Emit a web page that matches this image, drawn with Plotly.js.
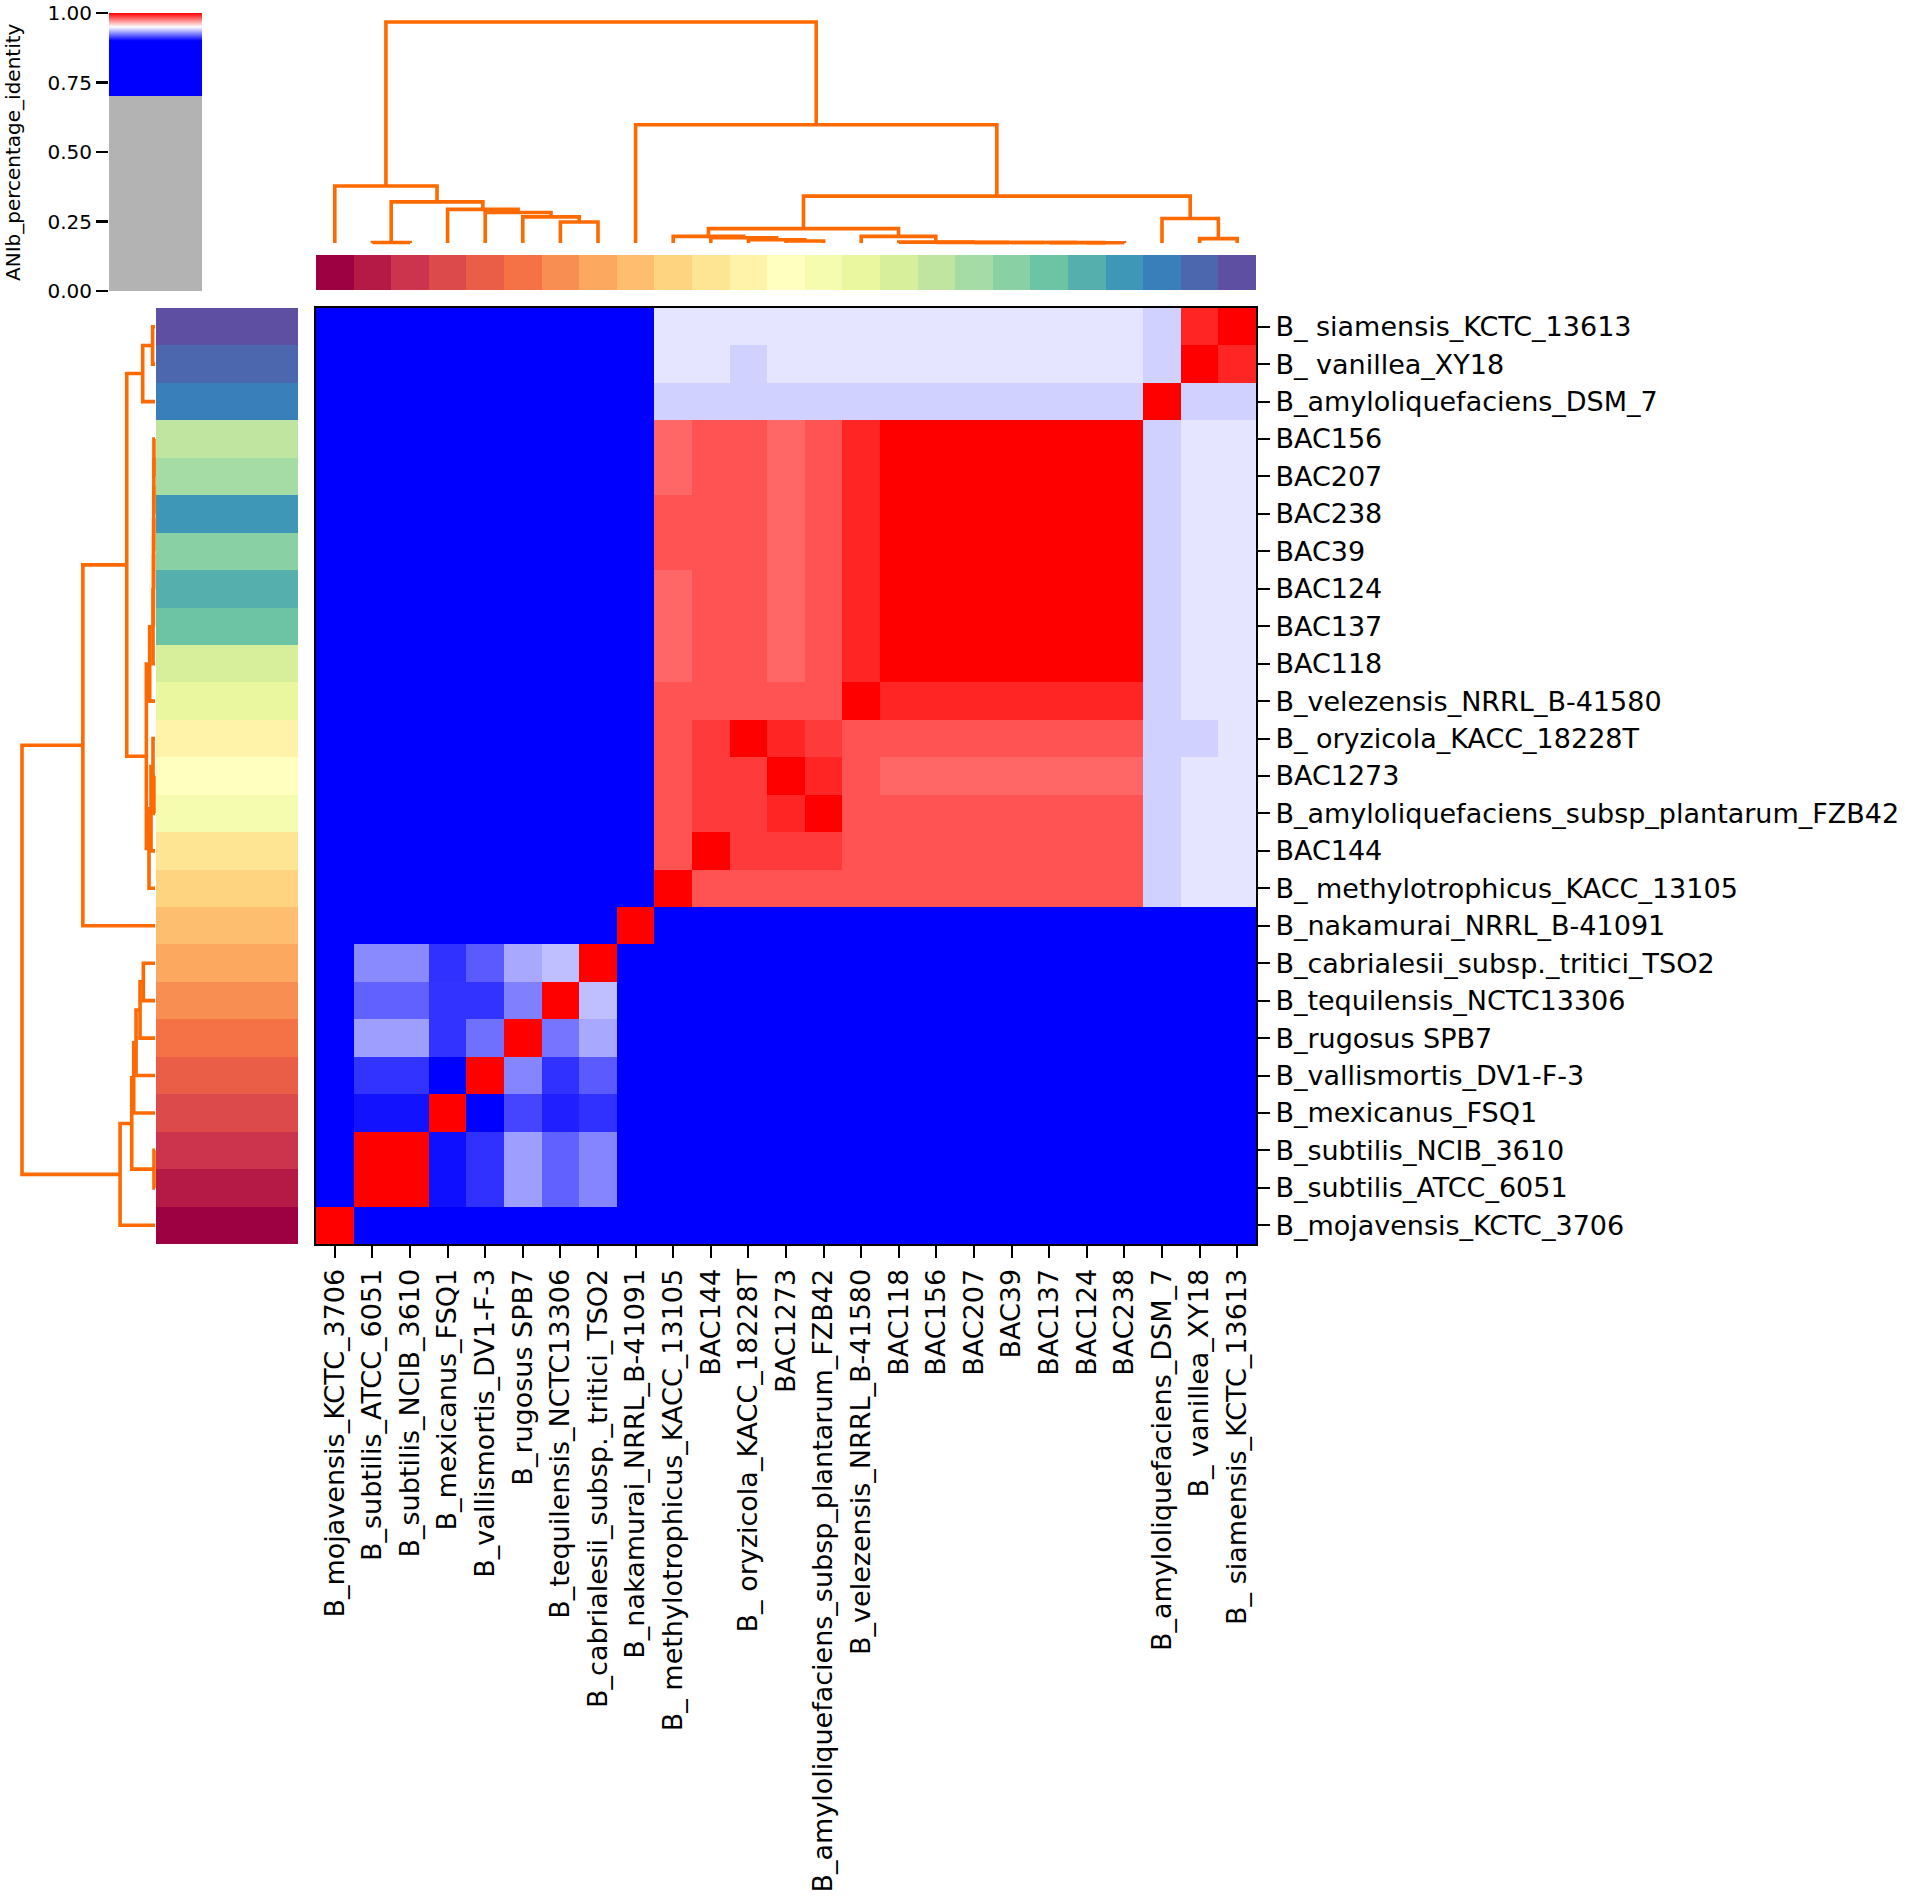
<!DOCTYPE html>
<html>
<head>
<meta charset="utf-8">
<script src="https://cdn.plot.ly/plotly-3.0.1.min.js"></script>
<style>
html,body{margin:0;padding:0;background:#ffffff;}
#chart{width:1908px;height:1903px;}
</style>
</head>
<body>
<div id="chart"></div>
<script>
// ---------------- DATA ----------------
// Column order (left -> right)
const colLabels = [
  'B_mojavensis_KCTC_3706','B_subtilis_ATCC_6051','B_subtilis_NCIB_3610','B_mexicanus_FSQ1',
  'B_vallismortis_DV1-F-3','B_rugosus SPB7','B_tequilensis_NCTC13306','B_cabrialesii_subsp._tritici_TSO2',
  'B_nakamurai_NRRL_B-41091','B_ methylotrophicus_KACC_13105','BAC144','B_ oryzicola_KACC_18228T',
  'BAC1273','B_amyloliquefaciens_subsp_plantarum_FZB42','B_velezensis_NRRL_B-41580','BAC118',
  'BAC156','BAC207','BAC39','BAC137','BAC124','BAC238',
  'B_amyloliquefaciens_DSM_7','B_ vanillea_XY18','B_ siamensis_KCTC_13613'
];
// Row order (top -> bottom)
const rowLabels = [
  'B_ siamensis_KCTC_13613','B_ vanillea_XY18','B_amyloliquefaciens_DSM_7','BAC156','BAC207',
  'BAC238','BAC39','BAC124','BAC137','BAC118','B_velezensis_NRRL_B-41580','B_ oryzicola_KACC_18228T',
  'BAC1273','B_amyloliquefaciens_subsp_plantarum_FZB42','BAC144','B_ methylotrophicus_KACC_13105',
  'B_nakamurai_NRRL_B-41091','B_cabrialesii_subsp._tritici_TSO2','B_tequilensis_NCTC13306',
  'B_rugosus SPB7','B_vallismortis_DV1-F-3','B_mexicanus_FSQ1','B_subtilis_NCIB_3610',
  'B_subtilis_ATCC_6051','B_mojavensis_KCTC_3706'
];
// ANIb percentage identity, one row per rowLabels entry, columns in colLabels order
const aniMatrix = [
 [0.77,0.77,0.77,0.77,0.77,0.77,0.77,0.77,0.80,0.945,0.945,0.945,0.945,0.945,0.945,0.945,0.945,0.945,0.945,0.945,0.945,0.945,0.941,0.9927,1.0],
 [0.77,0.77,0.77,0.77,0.77,0.77,0.77,0.77,0.80,0.945,0.945,0.941,0.945,0.945,0.945,0.945,0.945,0.945,0.945,0.945,0.945,0.945,0.941,1.0,0.9927],
 [0.77,0.77,0.77,0.77,0.77,0.77,0.77,0.77,0.80,0.941,0.941,0.941,0.941,0.941,0.941,0.941,0.941,0.941,0.941,0.941,0.941,0.941,1.0,0.941,0.941],
 [0.77,0.77,0.77,0.77,0.77,0.77,0.77,0.77,0.80,0.980,0.984,0.984,0.980,0.984,0.9927,1.0,1.0,1.0,1.0,1.0,1.0,1.0,0.941,0.945,0.945],
 [0.77,0.77,0.77,0.77,0.77,0.77,0.77,0.77,0.80,0.980,0.984,0.984,0.980,0.984,0.9927,1.0,1.0,1.0,1.0,1.0,1.0,1.0,0.941,0.945,0.945],
 [0.77,0.77,0.77,0.77,0.77,0.77,0.77,0.77,0.80,0.984,0.984,0.984,0.980,0.984,0.9927,1.0,1.0,1.0,1.0,1.0,1.0,1.0,0.941,0.945,0.945],
 [0.77,0.77,0.77,0.77,0.77,0.77,0.77,0.77,0.80,0.984,0.984,0.984,0.980,0.984,0.9927,1.0,1.0,1.0,1.0,1.0,1.0,1.0,0.941,0.945,0.945],
 [0.77,0.77,0.77,0.77,0.77,0.77,0.77,0.77,0.80,0.980,0.984,0.984,0.980,0.984,0.9927,1.0,1.0,1.0,1.0,1.0,1.0,1.0,0.941,0.945,0.945],
 [0.77,0.77,0.77,0.77,0.77,0.77,0.77,0.77,0.80,0.980,0.984,0.984,0.980,0.984,0.9927,1.0,1.0,1.0,1.0,1.0,1.0,1.0,0.941,0.945,0.945],
 [0.77,0.77,0.77,0.77,0.77,0.77,0.77,0.77,0.80,0.980,0.984,0.984,0.980,0.984,0.9927,1.0,1.0,1.0,1.0,1.0,1.0,1.0,0.941,0.945,0.945],
 [0.77,0.77,0.77,0.77,0.77,0.77,0.77,0.77,0.80,0.984,0.984,0.984,0.984,0.984,1.0,0.9927,0.9927,0.9927,0.9927,0.9927,0.9927,0.9927,0.941,0.945,0.945],
 [0.77,0.77,0.77,0.77,0.77,0.77,0.77,0.77,0.80,0.984,0.9886,1.0,0.9927,0.9886,0.984,0.984,0.984,0.984,0.984,0.984,0.984,0.984,0.941,0.941,0.945],
 [0.77,0.77,0.77,0.77,0.77,0.77,0.77,0.77,0.80,0.984,0.9886,0.9886,1.0,0.9927,0.984,0.980,0.980,0.980,0.980,0.980,0.980,0.980,0.941,0.945,0.945],
 [0.77,0.77,0.77,0.77,0.77,0.77,0.77,0.77,0.80,0.984,0.9886,0.9886,0.9927,1.0,0.984,0.984,0.984,0.984,0.984,0.984,0.984,0.984,0.941,0.945,0.945],
 [0.77,0.77,0.77,0.77,0.77,0.77,0.77,0.77,0.80,0.984,1.0,0.9886,0.9886,0.9886,0.984,0.984,0.984,0.984,0.984,0.984,0.984,0.984,0.941,0.945,0.945],
 [0.77,0.77,0.77,0.77,0.77,0.77,0.77,0.77,0.80,1.0,0.984,0.984,0.984,0.984,0.984,0.984,0.984,0.984,0.984,0.984,0.984,0.984,0.941,0.945,0.945],
 [0.80,0.80,0.80,0.80,0.80,0.80,0.80,0.80,1.0,0.80,0.80,0.80,0.80,0.80,0.80,0.80,0.80,0.80,0.80,0.80,0.80,0.80,0.80,0.80,0.80],
 [0.88,0.927,0.927,0.9095,0.9176,0.933,0.9375,1.0,0.80,0.77,0.77,0.77,0.77,0.77,0.77,0.77,0.77,0.77,0.77,0.77,0.77,0.77,0.77,0.77,0.77],
 [0.88,0.919,0.919,0.910,0.910,0.925,1.0,0.9375,0.80,0.77,0.77,0.77,0.77,0.77,0.77,0.77,0.77,0.77,0.77,0.77,0.77,0.77,0.77,0.77,0.77],
 [0.88,0.931,0.931,0.910,0.922,1.0,0.923,0.933,0.80,0.77,0.77,0.77,0.77,0.77,0.77,0.77,0.77,0.77,0.77,0.77,0.77,0.77,0.77,0.77,0.77],
 [0.88,0.910,0.910,0.895,1.0,0.926,0.9095,0.9176,0.80,0.77,0.77,0.77,0.77,0.77,0.77,0.77,0.77,0.77,0.77,0.77,0.77,0.77,0.77,0.77,0.77],
 [0.88,0.9035,0.9035,1.0,0.895,0.9135,0.906,0.9095,0.80,0.77,0.77,0.77,0.77,0.77,0.77,0.77,0.77,0.77,0.77,0.77,0.77,0.77,0.77,0.77,0.77],
 [0.88,1.0,1.0,0.903,0.9095,0.931,0.919,0.926,0.80,0.77,0.77,0.77,0.77,0.77,0.77,0.77,0.77,0.77,0.77,0.77,0.77,0.77,0.77,0.77,0.77],
 [0.88,1.0,1.0,0.903,0.9095,0.931,0.919,0.926,0.80,0.77,0.77,0.77,0.77,0.77,0.77,0.77,0.77,0.77,0.77,0.77,0.77,0.77,0.77,0.77,0.77],
 [1.0,0.88,0.88,0.88,0.88,0.88,0.88,0.88,0.80,0.77,0.77,0.77,0.77,0.77,0.77,0.77,0.77,0.77,0.77,0.77,0.77,0.77,0.77,0.77,0.77]
];
// Column dendrogram linkage: [child A, child B, height]; a child is a label or the index of an earlier merge
const colMerges = [
 ['B_subtilis_ATCC_6051','B_subtilis_NCIB_3610',0.002],
 ['B_tequilensis_NCTC13306','B_cabrialesii_subsp._tritici_TSO2',0.095],
 ['B_rugosus SPB7',1,0.118],
 ['B_vallismortis_DV1-F-3',2,0.138],
 ['B_mexicanus_FSQ1',3,0.152],
 [0,4,0.186],
 ['B_mojavensis_KCTC_3706',5,0.258],
 ['BAC124','BAC238',0.001],
 ['BAC137',7,0.0015],
 ['BAC39',8,0.002],
 ['BAC207',9,0.0025],
 ['BAC156',10,0.003],
 ['BAC118',11,0.004],
 ['B_velezensis_NRRL_B-41580',12,0.030],
 ['BAC1273','B_amyloliquefaciens_subsp_plantarum_FZB42',0.009],
 ['B_ oryzicola_KACC_18228T',14,0.015],
 ['BAC144',15,0.024],
 ['B_ methylotrophicus_KACC_13105',16,0.030],
 [17,13,0.065],
 ['B_ vanillea_XY18','B_ siamensis_KCTC_13613',0.020],
 ['B_amyloliquefaciens_DSM_7',19,0.111],
 [18,20,0.212],
 ['B_nakamurai_NRRL_B-41091',21,0.535],
 [6,22,1.0]
];
// Row dendrogram linkage
const rowMerges = [
 ['B_ siamensis_KCTC_13613','B_ vanillea_XY18',0.018],
 [0,'B_amyloliquefaciens_DSM_7',0.0925],
 ['BAC156','BAC207',0.008],
 [2,'BAC238',0.009],
 [3,'BAC39',0.010],
 [4,'BAC124',0.011],
 [5,'BAC137',0.012],
 [6,'BAC118',0.015],
 [7,'B_velezensis_NRRL_B-41580',0.040],
 ['BAC1273','B_amyloliquefaciens_subsp_plantarum_FZB42',0.008],
 ['B_ oryzicola_KACC_18228T',9,0.015],
 [10,'BAC144',0.030],
 [11,'B_ methylotrophicus_KACC_13105',0.045],
 [8,12,0.065],
 [1,13,0.2125],
 [14,'B_nakamurai_NRRL_B-41091',0.5425],
 ['B_cabrialesii_subsp._tritici_TSO2','B_tequilensis_NCTC13306',0.0875],
 [16,'B_rugosus SPB7',0.1125],
 [17,'B_vallismortis_DV1-F-3',0.1425],
 [18,'B_mexicanus_FSQ1',0.16],
 ['B_subtilis_NCIB_3610','B_subtilis_ATCC_6051',0.0075],
 [19,20,0.175],
 [21,'B_mojavensis_KCTC_3706',0.2625],
 [15,22,1.0]
];
const cbTickVals = [0, 0.25, 0.5, 0.75, 1.0];
const cbTitle = 'ANIb_percentage_identity';

// ---------------- STYLE ----------------
const W = 1908, H = 1903;
const fx = p => p / W;
const fy = p => 1 - p / H;
const FONT = 'DejaVu Sans, Liberation Sans, sans-serif';
const DENDRO_COLOR = '#ff6a00';

// ANIb colormap (grey below 0.7, blue to 0.9, white at 0.95, red at 1.0)
const aniScale = [[0,'#b3b3b3'],[0.7,'#b3b3b3'],[0.7,'#0000ff'],[0.9,'#0000ff'],[0.95,'#ffffff'],[1,'#ff0000']];

// Spectral palette for label colours
const spectralAnchors = ['#9e0142','#d53e4f','#f46d43','#fdae61','#fee08b','#ffffbf','#e6f598','#abdda4','#66c2a5','#3288bd','#5e4fa2'];
function hexToRgb(h){return [parseInt(h.slice(1,3),16),parseInt(h.slice(3,5),16),parseInt(h.slice(5,7),16)];}
function spectral(t){
  const pos = t*10; let i = Math.floor(pos); if(i>9) i=9; if(i<0) i=0;
  const f = pos - i; const a = hexToRgb(spectralAnchors[i]), b = hexToRgb(spectralAnchors[i+1]);
  const c = a.map((v,k)=>Math.round(v + (b[k]-v)*f));
  return 'rgb('+c.join(',')+')';
}
const nLab = colLabels.length;
const labelColours = colLabels.map((l,j)=>spectral(j/(nLab-1)));
const specScale = [];
labelColours.forEach((c,j)=>{ specScale.push([j/nLab, c]); specScale.push([(j+1)/nLab, c]); });

const colBarZ = [colLabels.map(l=>colLabels.indexOf(l))];
const rowBarZ = rowLabels.map(l=>[colLabels.indexOf(l)]);

// Dendrogram geometry (scipy-like: node position = mean of its children)
function dendro(merges, order){
  const pos = {}; order.forEach((l,i)=>{pos[l]=i+0.5;});
  const nodes = [];
  const get = c => (typeof c === 'number') ? nodes[c] : {p: pos[c], h: 0};
  const P = [], Hs = [];
  merges.forEach(m=>{
    const a = get(m[0]), b = get(m[1]), h = m[2];
    P.push(a.p, a.p, b.p, b.p, null);
    Hs.push(a.h, h, h, b.h, null);
    nodes.push({p:(a.p+b.p)/2, h:h});
  });
  return {P, Hs};
}
const topD = dendro(colMerges, colLabels);
const leftD = dendro(rowMerges, rowLabels);

// ---------------- TRACES ----------------
const traces = [
  {
    type:'heatmap', x: colLabels, y: rowLabels, z: aniMatrix,
    colorscale: aniScale, zmin:0, zmax:1, xaxis:'x', yaxis:'y', hoverinfo:'skip',
    colorbar:{
      x: fx(109), xanchor:'left', xref:'paper',
      y: fy(152), yanchor:'middle', yref:'paper',
      len: 278, lenmode:'pixels', thickness: 93, thicknessmode:'pixels',
      outlinewidth: 0, showticklabels:false, ticks:'', xpad:0, ypad:0
    }
  },
  {
    type:'heatmap', x: colLabels, y:['col_colours'], z: colBarZ,
    colorscale: specScale, zmin:-0.5, zmax:nLab-0.5, showscale:false,
    xaxis:'x2', yaxis:'y2', hoverinfo:'skip'
  },
  {
    type:'heatmap', x:['row_colours'], y: rowLabels, z: rowBarZ,
    colorscale: specScale, zmin:-0.5, zmax:nLab-0.5, showscale:false,
    xaxis:'x3', yaxis:'y3', hoverinfo:'skip'
  },
  {
    type:'scatter', mode:'lines', x: topD.P, y: topD.Hs, xaxis:'x4', yaxis:'y4',
    line:{color:DENDRO_COLOR, width:3.6}, hoverinfo:'skip', showlegend:false
  },
  {
    type:'scatter', mode:'lines', x: leftD.Hs, y: leftD.P, xaxis:'x5', yaxis:'y5',
    line:{color:DENDRO_COLOR, width:3.6}, hoverinfo:'skip', showlegend:false
  },
  // invisible helper so the colour-bar tick axis is drawn
  {
    type:'scatter', mode:'markers', x: cbTickVals.map(()=>0.5), y: cbTickVals,
    xaxis:'x6', yaxis:'y6', marker:{opacity:0, size:1}, hoverinfo:'skip', showlegend:false
  }
];

// ---------------- LAYOUT ----------------
const hmX = [fx(316), fx(1256)];
const hmY = [fy(1244), fy(308)];
const hidden = {visible:false, showgrid:false, zeroline:false, fixedrange:true};
const tickAxis = {
  showgrid:false, zeroline:false, ticks:'outside', ticklen:12, tickwidth:2, tickcolor:'#000',
  showline:true, linecolor:'#000', linewidth:2, mirror:true,
  tickfont:{family:FONT, size:27, color:'#000'}, automargin:false, fixedrange:true
};
const layout = {
  width: W, height: H,
  margin:{l:0, r:0, t:0, b:0, pad:0},
  paper_bgcolor:'#ffffff', plot_bgcolor:'rgba(0,0,0,0)',
  font:{family:FONT, color:'#000'},
  showlegend:false,
  xaxis: Object.assign({}, tickAxis, {
    domain: hmX, anchor:'y', type:'category', categoryorder:'array', categoryarray: colLabels,
    range:[-0.5, nLab-0.5], tickangle:-90, side:'bottom'
  }),
  yaxis: Object.assign({}, tickAxis, {
    domain: hmY, anchor:'x', type:'category', categoryorder:'array', categoryarray: rowLabels,
    range:[nLab-0.5, -0.5], side:'right'
  }),
  xaxis2: Object.assign({}, hidden, {domain: hmX, anchor:'y2', type:'category', categoryorder:'array', categoryarray: colLabels, range:[-0.5, nLab-0.5]}),
  yaxis2: Object.assign({}, hidden, {domain:[fy(290), fy(255)], anchor:'x2'}),
  xaxis3: Object.assign({}, hidden, {domain:[fx(156), fx(298)], anchor:'y3'}),
  yaxis3: Object.assign({}, hidden, {domain: hmY, anchor:'x3', type:'category', categoryorder:'array', categoryarray: rowLabels, range:[nLab-0.5, -0.5]}),
  xaxis4: Object.assign({}, hidden, {domain: hmX, anchor:'y4', range:[0, nLab]}),
  yaxis4: Object.assign({}, hidden, {domain:[fy(243+0.03*221), fy(22-0.03*221)], anchor:'x4', range:[-0.03, 1.03]}),
  xaxis5: Object.assign({}, hidden, {domain:[fx(22-0.03*133), fx(155+0.03*133)], anchor:'y5', range:[1.03, -0.03]}),
  yaxis5: Object.assign({}, hidden, {domain: hmY, anchor:'x5', range:[nLab, 0]}),
  xaxis6: {domain:[fx(109), fx(202)], anchor:'y6', range:[0,1], showticklabels:false, ticks:'', showline:false, showgrid:false, zeroline:false, fixedrange:true},
  yaxis6: {
    domain:[fy(291), fy(13)], anchor:'x6', range:[0,1], side:'left',
    tickvals: cbTickVals, tickformat:'.2f', ticks:'outside', ticklen:12, tickwidth:2.5, tickcolor:'#000',
    showline:false, showgrid:false, zeroline:false, fixedrange:true,
    tickfont:{family:FONT, size:20, color:'#000'}, automargin:false
  },
  annotations:[{
    text: cbTitle, xref:'paper', yref:'paper', x: fx(13), y: fy(152),
    xanchor:'center', yanchor:'middle', textangle:-90, showarrow:false,
    font:{family:FONT, size:20, color:'#000'}
  }]
};

Plotly.newPlot('chart', traces, layout, {displayModeBar:false, staticPlot:true});
</script>
</body>
</html>
